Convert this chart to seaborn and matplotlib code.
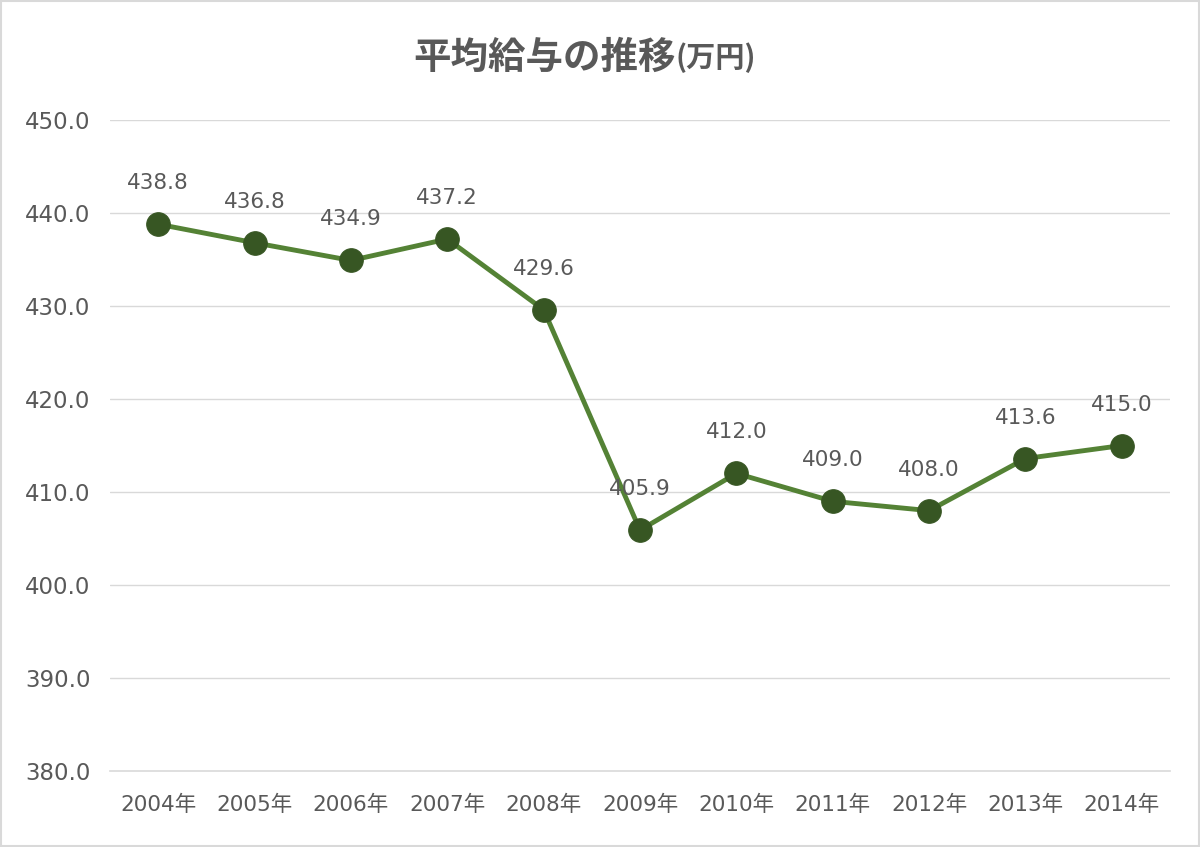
import matplotlib
matplotlib.use("Agg")
import matplotlib.pyplot as plt
import seaborn as sns
import pandas as pd
from matplotlib.patches import Rectangle

years = ["2004年", "2005年", "2006年", "2007年", "2008年", "2009年",
         "2010年", "2011年", "2012年", "2013年", "2014年"]
salary = [438.8, 436.8, 434.9, 437.2, 429.6, 405.9, 412.0, 409.0, 408.0, 413.6, 415.0]
yticks = [380, 390, 400, 410, 420, 430, 440, 450]

df = pd.DataFrame({"year": years, "salary": salary})
df["pos"] = range(len(years))

sns.set_style("white")
plt.rcParams["font.family"] = ["DejaVu Sans", "Noto Sans CJK JP"]

text_color = "#595959"
grid_color = "#d9d9d9"

fig = plt.figure(figsize=(12, 8.47), dpi=100)
ax = fig.add_axes([0.0917, 0.0897, 0.8833, 0.7686])

for y in yticks[1:]:
    ax.axhline(y, color=grid_color, lw=1, zorder=0)

sns.lineplot(data=df, x="pos", y="salary", ax=ax, color="#548235", lw=3.5,
             marker="o", markersize=17, markerfacecolor="#375623",
             markeredgecolor="#375623", zorder=3)

for x, v in zip(df["pos"], df["salary"]):
    ax.annotate(f"{v:.1f}", (x, v), xytext=(0, 29.5), textcoords="offset points",
                ha="center", va="center", fontsize=15.5, color=text_color)

ax.set_xlim(-0.5, len(years) - 0.5)
ax.set_ylim(380, 450)
ax.set_yticks(yticks)
ax.set_yticklabels([f"{t:.1f}" for t in yticks], fontsize=16.5, color=text_color)
ax.set_xticks(range(len(years)))
ax.set_xticklabels(years, fontsize=15.5, color=text_color)
ax.set_xticks([i - 0.5 for i in range(len(years) + 1)], minor=True)
ax.tick_params(axis="x", which="major", length=0, pad=17)
ax.tick_params(axis="x", which="minor", length=10, color=grid_color, direction="in")
ax.tick_params(axis="y", length=0, pad=14)
ax.set_xlabel("")
ax.set_ylabel("")
for s in ["top", "right", "left"]:
    ax.spines[s].set_visible(False)
ax.spines["bottom"].set_color(grid_color)
ax.spines["bottom"].set_linewidth(1.2)

title_font = ["Noto Sans CJK JP", "DejaVu Sans"]
main = fig.text(413 / 1200, 1 - 57 / 847, "平均給与の推移", ha="left", va="center",
                fontsize=27, fontweight="bold", color=text_color, family=title_font)
fig.canvas.draw()
bb = main.get_window_extent().transformed(fig.transFigure.inverted())
fig.text(bb.x1, 1 - 58 / 847, "(万円)", ha="left", va="center", fontsize=21,
         fontweight="bold", color=text_color, family=title_font)

fig.patches.append(Rectangle((0.001, 0.001), 0.998, 0.998, transform=fig.transFigure,
                             fill=False, edgecolor=grid_color, lw=1.5))

fig.savefig("out.png", dpi=100, facecolor="white")
